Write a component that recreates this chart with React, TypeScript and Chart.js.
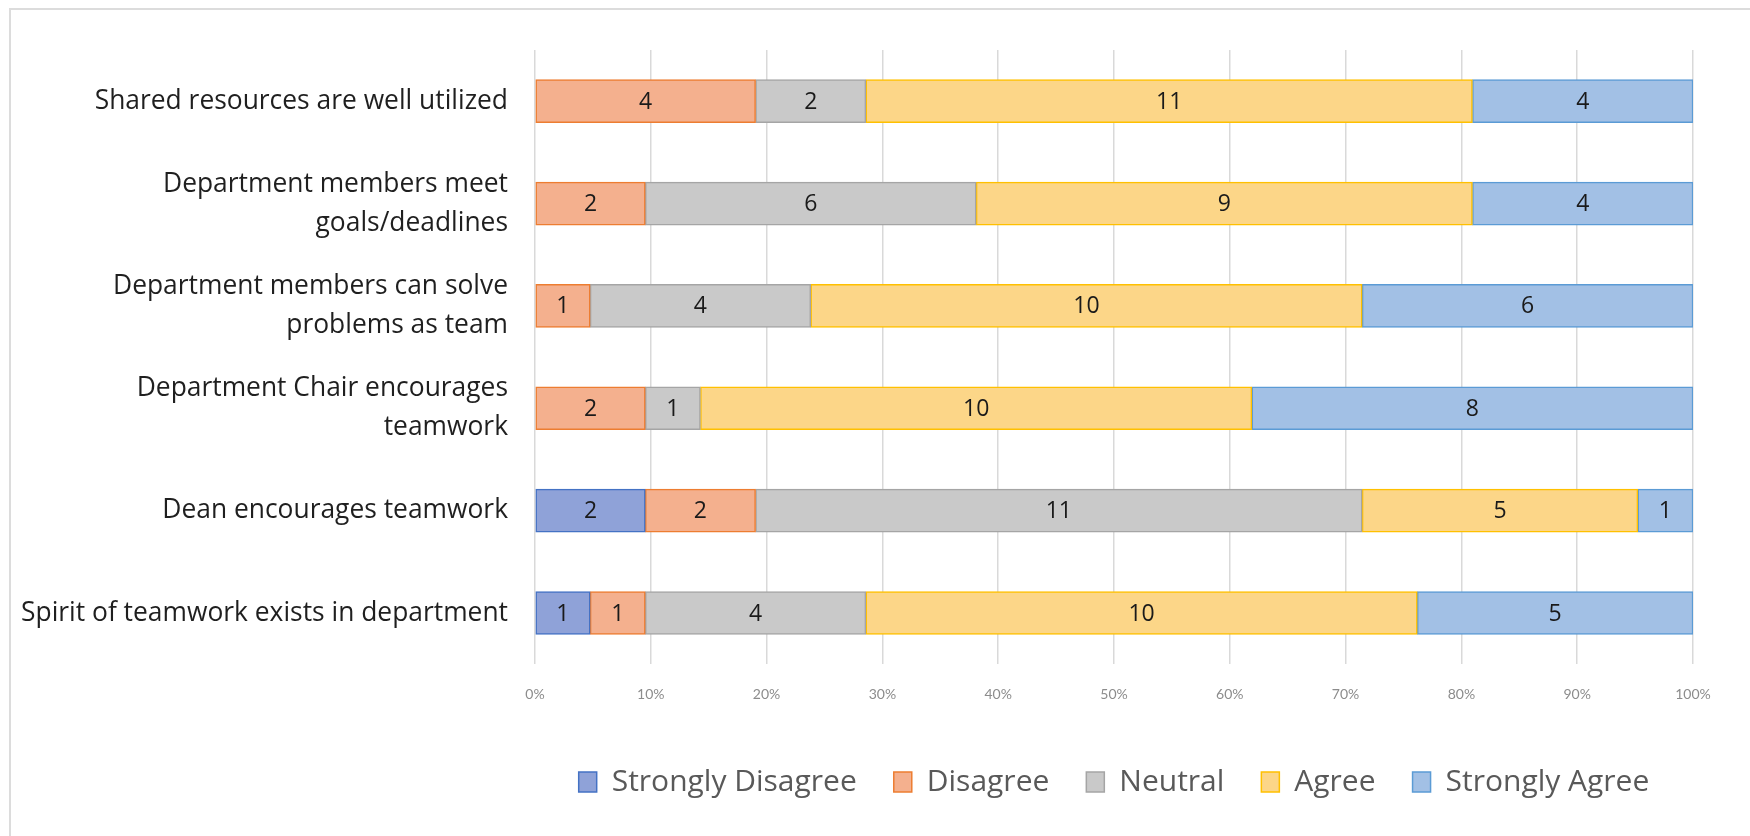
import React, { useEffect, useRef } from "react";
import { Chart, registerables } from "chart.js";

Chart.register(...registerables);

const categories: (string | string[])[] = [
  "Shared resources are well utilized",
  ["Department members meet", "goals/deadlines"],
  ["Department members can solve", "problems as team"],
  ["Department Chair encourages", "teamwork"],
  "Dean encourages teamwork",
  "Spirit of teamwork exists in department",
];

const stronglyDisagree = [0, 0, 0, 0, 2, 1];
const disagree = [4, 2, 1, 2, 2, 1];
const neutral = [2, 6, 4, 1, 11, 4];
const agree = [11, 9, 10, 10, 5, 10];
const stronglyAgree = [4, 4, 6, 8, 1, 5];

const xTicks = [0, 10, 20, 30, 40, 50, 60, 70, 80, 90, 100];

const seriesNames = ["Strongly Disagree", "Disagree", "Neutral", "Agree", "Strongly Agree"];
const seriesCounts = [stronglyDisagree, disagree, neutral, agree, stronglyAgree];
const fills = ["#8fa2d8", "#f4b08e", "#c9c9c9", "#fcd688", "#a2c0e5"];
const borders = ["#4472c4", "#ed7d31", "#a5a5a5", "#ffc000", "#5b9bd5"];

const totals = categories.map((_, i) => seriesCounts.reduce((s, arr) => s + arr[i], 0));

const labelPlugin = {
  id: "barLabels",
  afterDatasetsDraw(chart: any) {
    const ctx = chart.ctx;
    ctx.save();
    ctx.font = "23px 'Open Sans'";
    ctx.fillStyle = "#1a1a1a";
    ctx.textAlign = "center";
    ctx.textBaseline = "middle";
    chart.data.datasets.forEach((ds: any, di: number) => {
      const meta = chart.getDatasetMeta(di);
      meta.data.forEach((el: any, i: number) => {
        const count = ds.counts[i];
        if (!count) return;
        const cx = (el.x + el.base) / 2;
        ctx.fillText(String(count), cx, el.y + 1);
      });
    });
    ctx.restore();
  },
};

export default function App() {
  const ref = useRef<HTMLCanvasElement | null>(null);
  useEffect(() => {
    if (!ref.current) return;
    Chart.defaults.font.family = "'Open Sans'";
    const chart = new Chart(ref.current, {
      type: "bar",
      data: {
        labels: categories,
        datasets: seriesNames.map((name, si) => ({
          label: name,
          data: seriesCounts[si].map((v, i) => (v / totals[i]) * 100),
          counts: seriesCounts[si],
          backgroundColor: fills[si],
          borderColor: borders[si],
          borderWidth: 1.5,
          borderSkipped: false,
          barThickness: 43,
        })) as any,
      },
      options: {
        indexAxis: "y",
        responsive: false,
        animation: false,
        layout: { padding: { left: 0, right: 57, top: 50, bottom: 29 } },
        plugins: {
          legend: {
            position: "bottom",
            fullSize: false,
            labels: {
              boxWidth: 18,
              boxHeight: 20,
              padding: 37,
              color: "#595959",
              font: { size: 30, family: "'Open Sans'" },
            },
          },
          tooltip: { enabled: false },
        },
        scales: {
          x: {
            stacked: true,
            min: 0,
            max: 100,
            afterBuildTicks: (scale: any) => {
              scale.ticks = xTicks.map((v) => ({ value: v }));
            },
            afterFit: (scale: any) => {
              scale.height += 5;
            },
            grid: { color: "#d9d9d9", lineWidth: 1.5, drawTicks: false },
            border: { display: false },
            ticks: {
              color: "#8c8c8c",
              font: { size: 14, family: "Lato" },
              padding: 22,
              callback: (v: any) => v + "%",
            },
          },
          y: {
            stacked: true,
            afterFit: (scale: any) => {
              scale.width = 535;
            },
            grid: { display: false, drawTicks: false },
            border: { display: false },
            ticks: {
              color: "#1f1f1f",
              font: { size: 26.4, family: "'Open Sans'", lineHeight: 1.48 },
              padding: 27,
            },
          },
        },
      },
      plugins: [labelPlugin],
    });
    return () => chart.destroy();
  }, []);
  return (
    <div style={{ position: "absolute", left: 0, top: 0, width: 1750, height: 836, background: "#fff", overflow: "hidden" }}>
      <div
        style={{
          position: "absolute",
          left: 9,
          top: 8,
          width: 1800,
          height: 900,
          border: "2px solid #dcdcdc",
          boxSizing: "border-box",
        }}
      />
      <canvas ref={ref} width={1750} height={836} style={{ position: "absolute", left: 0, top: 0 }} />
    </div>
  );
}
